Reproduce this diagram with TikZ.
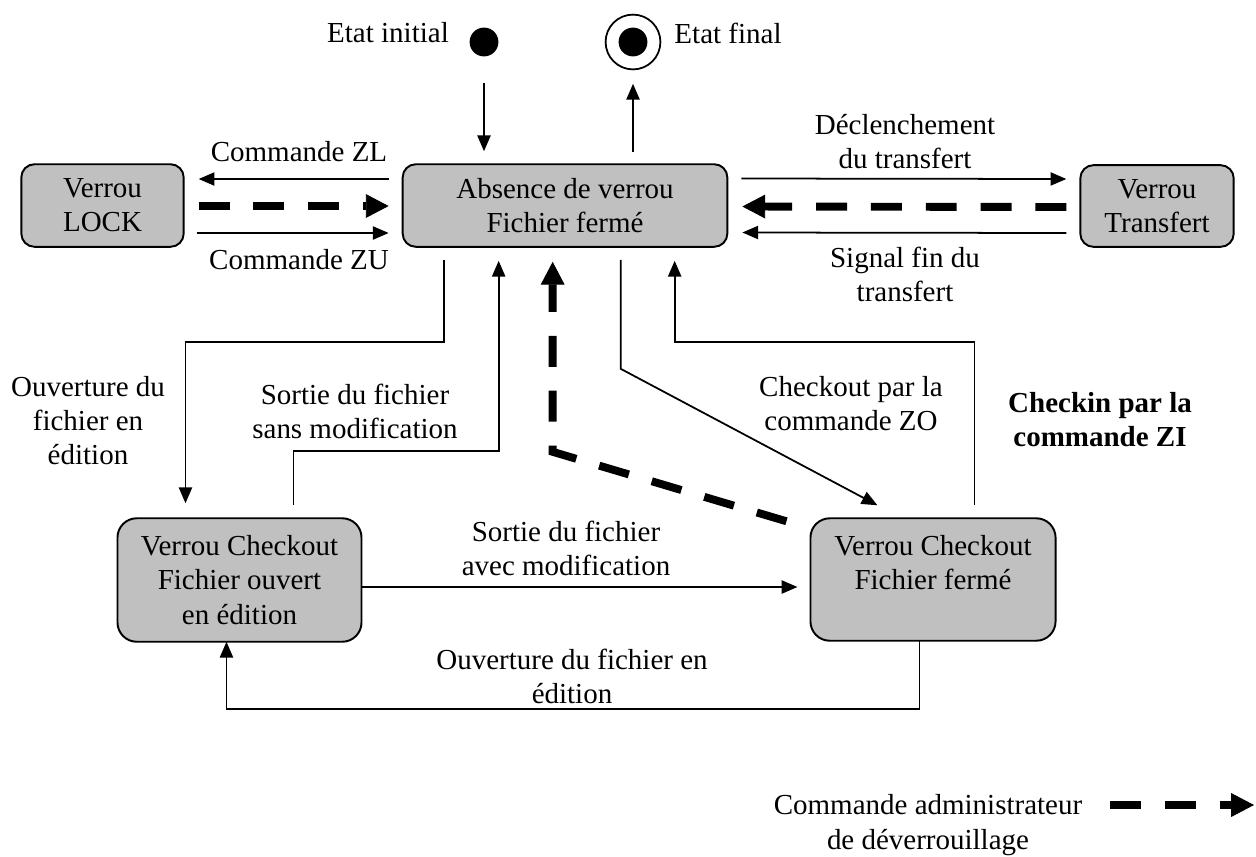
\documentclass[tikz,border=0pt]{standalone}
\usepackage{fontspec}
\setmainfont{Liberation Serif}
\usetikzlibrary{arrows.meta,calc}
\definecolor{boxgray}{RGB}{192,192,192}
\begin{document}
\begin{tikzpicture}[x=0.02cm,y=-0.02cm,
  font=\fontsize{16.5pt}{19.5pt}\selectfont,
  statebox/.style={draw=black, line width=1.1pt, fill=boxgray, rounded corners=7.5pt, align=center, inner sep=0pt, outer sep=0pt},
  bigbox/.style={statebox, rounded corners=11pt},
  lbl/.style={align=center, inner sep=0pt},
  arr/.style={line width=1pt, -{Triangle[length=9pt,width=7.5pt]}},
  adm/.style={line width=4.5pt, dash pattern=on 17.6pt off 13.6pt, -{Triangle[length=13pt,width=13.5pt,line width=0.5pt]}},
]
\useasboundingbox (0,0) rectangle (1256,856);

% states
\node[statebox, minimum width=92.4pt, minimum height=47pt] (lock) at (102.5,205.5) {Verrou\\LOCK};
\node[statebox, minimum width=184.8pt, minimum height=47pt] (absn) at (565,205.5) {Absence de verrou\\Fichier fermé};
\node[statebox, minimum width=87.3pt, minimum height=46.5pt] (transf) at (1157,206) {Verrou\\Transfert};
\node[bigbox, minimum width=138.9pt, minimum height=70.3pt] (cko) at (239.5,580) {Verrou Checkout\\Fichier ouvert\\en édition};
\node[bigbox, minimum width=139.5pt, minimum height=69.7pt] (ckf) at (933,579.5) {Verrou Checkout\\Fichier fermé\\\mbox{}};
\node[circle, fill=black, minimum size=16.4pt, inner sep=0pt] (init) at (484,42) {};
\node[circle, draw=black, line width=1pt, minimum size=31.2pt, inner sep=0pt] (final) at (633,42) {};
\node[circle, fill=black, minimum size=16.4pt, inner sep=0pt] (finalin) at (final.center) {};

% labels
\node[lbl] (linit) at (388,33) {Etat initial};
\node[lbl] (lfinal) at (728,33) {Etat final};
\node[lbl] (lzl) at (299,152) {Commande ZL};
\node[lbl] (lzu) at (299,260) {Commande ZU};
\node[lbl] (ldecl) at (905,141.5) {Déclenchement\\du transfert};
\node[lbl] (lsig) at (905,274.5) {Signal fin du\\transfert};
\node[lbl] (louv1) at (88,420.5) {Ouverture du\\fichier en\\édition};
\node[lbl] (lsans) at (355,411.5) {Sortie du fichier\\sans modification};
\node[lbl] (lzo) at (851,403.5) {Checkout par la\\commande ZO};
\node[lbl, font=\fontsize{16.5pt}{19.5pt}\selectfont\bfseries] (lzi) at (1100,419.5) {Checkin par la\\commande ZI};
\node[lbl] (lavec) at (566,548.5) {Sortie du fichier\\avec modification};
\node[lbl] (louv2) at (572,676.5) {Ouverture du fichier en\\édition};
\node[lbl] (leg) at (928,825) {Commande administrateur\\de déverrouillage};

% initial / final
\draw[arr] ($(init.south)+(0,26.5)$) -- ($(init.south |- absn.north)+(0,-13)$);
\draw[arr] ($(final.south |- absn.north)+(0,-12)$) -- ($(final.south)+(0,13.5)$);

% LOCK
\draw[arr] ($(absn.west)+(-14,-26.5)$) -- ($(lock.east)+(15,-26.5)$);
\draw[adm] ($(lock.east)+(15,0.5)$) -- ($(absn.west)+(-14,0.5)$);
\draw[arr] ($(lock.east)+(13,27.5)$) -- ($(absn.west)+(-14,27.5)$);

% Transfert
\draw[arr] ($(absn.east)+(14,-27)$) -- ($(transf.west)+(-14,-27)$);
\draw[adm] ($(transf.west)+(-14,1)$) -- ($(absn.east)+(15,1)$);
\draw[arr] ($(transf.west)+(-14,27)$) -- ($(absn.east)+(15,27)$);

% Absence -> Checkout ouvert
\draw[arr] ($(absn.south west)+(41,13)$) |- ($(cko.north west)+(68,-176)$) -- ($(cko.north west)+(68,-15)$);
% Checkout ouvert -> Absence (sans modification)
\draw[arr] ($(cko.north west)+(176,-13)$) |- ($(absn.south west)+(96,204)$) -- ($(absn.south west)+(96,14)$);
% admin unlock from Checkout ferme
\draw[adm] ($(ckf.north west)+(-24,3)$) -- ($(absn.south west)+(150,205)$) -- ($(absn.south west)+(150,15)$);
% Checkout ZO
\draw[arr] ($(absn.south west)+(218,13)$) -- ($(absn.south west)+(218,122)$) -- ($(ckf.north west)+(67,-13)$);
% Checkin ZI
\draw[arr] ($(ckf.north west)+(164,-13)$) |- ($(absn.south west)+(272,95)$) -- ($(absn.south west)+(272,14)$);
% avec modification
\draw[arr] ($(cko.east)+(0,7)$) -- ($(ckf.west)+(-13,7.5)$);
% Ouverture from Checkout ferme
\draw[arr] ($(ckf.south west)+(109,0)$) |- ($(cko.south west)+(109,67)$) -- ($(cko.south west)+(109,0)$);

% legend
\coordinate (lgA) at (1110,805);
\coordinate (lgB) at (1254,805);
\draw[adm] (lgA) -- (lgB);
\end{tikzpicture}
\end{document}
